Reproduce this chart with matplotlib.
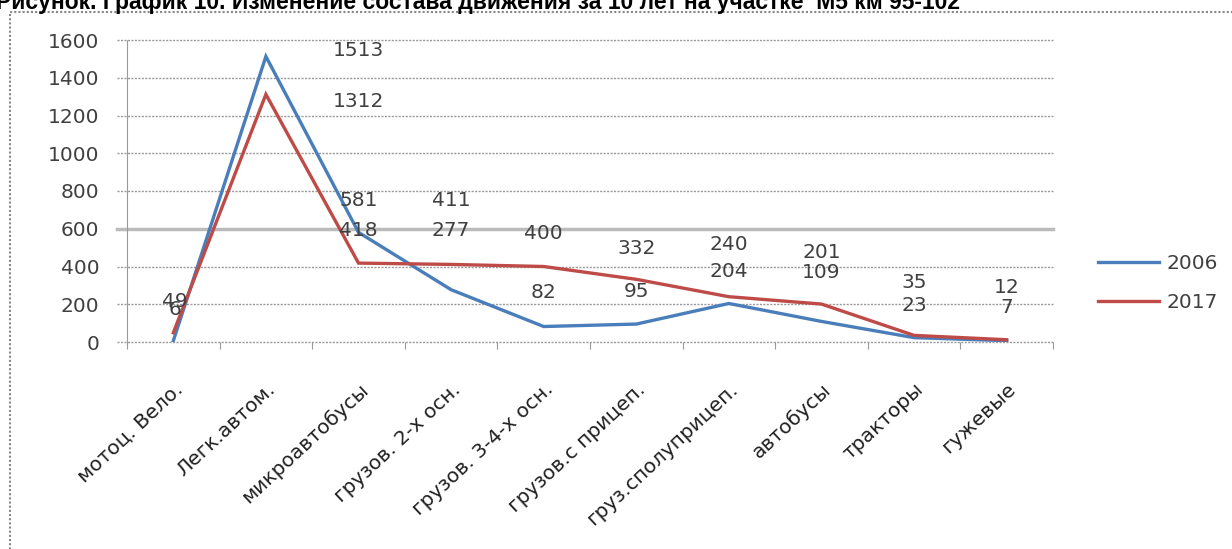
import matplotlib.pyplot as plt
from matplotlib.patches import Rectangle

# data
categories = ['мотоц. Вело.', 'Легк.автом.', 'микроавтобусы', 'грузов. 2-х осн.',
              'грузов. 3-4-х осн.', 'грузов.с прицеп.', 'груз.сполуприцеп.',
              'автобусы', 'тракторы', 'гужевые']
v2006 = [6, 1513, 581, 277, 82, 95, 204, 109, 23, 7]
v2017 = [49, 1312, 418, 411, 400, 332, 240, 201, 35, 12]

# where the data labels sit (category index, value) - they were moved by hand in the original
lab2006_x = [0.02, 2, 2, 3, 4, 5, 6, 7, 8, 9]
lab2006_y = [170, 1547, 752, 593, 260, 265, 371, 366, 191, 185]
lab2017_x = [0.02, 2, 2, 3, 4, 5, 6, 7, 8, 9]
lab2017_y = [212, 1272, 593, 752, 577, 498, 514, 472, 313, 291]

title = 'Рисунок. График 10. Изменение состава движения за 10 лет на участке  М5 км 95-102'

blue = '#4A7EBB'
red = '#BE4B48'
txt = '#404040'

fig = plt.figure(figsize=(12.32, 5.49), dpi=100)
ax = fig.add_axes([127/1232, 1-342/549, (1053-127)/1232, (342-40)/549])

x = list(range(len(categories)))
ax.plot(x, v2006, color=blue, lw=2.4, label='2006', solid_joinstyle='miter', zorder=3)
ax.plot(x, v2017, color=red, lw=2.4, label='2017', solid_joinstyle='miter', zorder=3)

for i in range(len(categories)):
    ax.text(lab2006_x[i], lab2006_y[i], str(v2006[i]), ha='center', va='center',
            fontsize=14.5, color=txt, zorder=4)
    ax.text(lab2017_x[i], lab2017_y[i], str(v2017[i]), ha='center', va='center',
            fontsize=14.5, color=txt, zorder=4)

ax.set_xlim(-0.5, len(categories) - 0.5)
ax.set_ylim(0, 1600)
ax.set_yticks(range(0, 1601, 200))
ax.tick_params(axis='y', labelsize=14.5, labelcolor=txt, length=0, pad=20)

# tick marks on category borders, labels on centres
ax.set_xticks([i - 0.5 for i in range(len(categories) + 1)])
ax.set_xticklabels([])
ax.tick_params(axis='x', which='major', length=5, color='#999999')
ax.set_xticks(x, minor=True)
ax.set_xticklabels(categories, minor=True, rotation=43, ha='right',
                   rotation_mode='anchor', fontsize=14.5, color='#202020')
ax.tick_params(axis='x', which='minor', length=0, pad=27)

for v in range(0, 1601, 200):
    ax.plot([-0.61, len(categories) - 0.5], [v, v], color='#999999', lw=1,
            ls=(0, (1.5, 1)), clip_on=False, zorder=1)
ax.plot([-0.61, len(categories) - 0.5], [600, 600], color='#BBBBBB', lw=2.5,
        clip_on=False, zorder=1.5)

for s in ['top', 'right', 'bottom']:
    ax.spines[s].set_visible(False)
ax.spines['left'].set_color('#999999')
ax.spines['left'].set_linestyle((0, (1.5, 1)))

fig.legend(loc='center left', bbox_to_anchor=(1080/1232, 1-283/549), frameon=False,
           fontsize=14.5, handlelength=3.0, labelspacing=1.0, handletextpad=0.4,
           labelcolor=txt)

# chart border
fig.add_artist(Rectangle((10/1232, -0.01), 1.0, 1-12/549 + 0.01, transform=fig.transFigure,
                         fill=False, ec='#888888', lw=1.5, ls=(0, (1, 1))))

fig.text(-0.003, 1-9.5/549, title, ha='left', va='baseline', fontsize=16.5,
         fontweight='bold', family='Liberation Sans', color='black')

fig.savefig('out.png', dpi=100)
